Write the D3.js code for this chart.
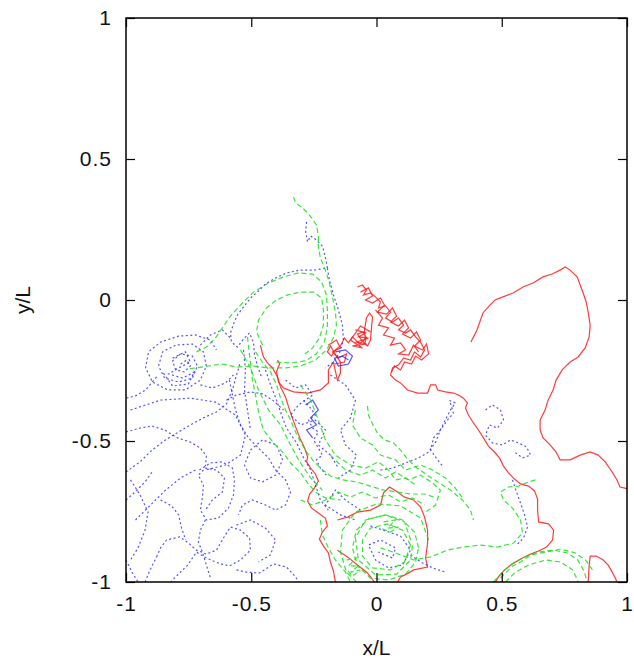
<!DOCTYPE html>
<html>
<head>
<meta charset="utf-8">
<script src="https://cdn.jsdelivr.net/npm/d3@7"></script>
<style>
  body { margin: 0; background: #fff; }
  text { font-family: "Liberation Sans", Arial, sans-serif; }
</style>
</head>
<body>
<div id="chart"></div>
<script>
/* tick values */
var xTicks = [-1, -0.5, 0, 0.5, 1];
var yTicks = [-1, -0.5, 0, 0.5, 1];

/* red trajectory pieces (x/L, y/L) */
var redLoop = [[0.377,-0.149],[0.401,-0.106],[0.425,-0.046],[0.453,-0.018],[0.473,0.0],[0.505,0.011],[0.545,0.025],[0.585,0.046],[0.625,0.060],[0.665,0.082],[0.701,0.092],[0.733,0.106],[0.753,0.117],[0.773,0.106],[0.801,0.082],[0.813,0.053],[0.825,0.025],[0.837,-0.007],[0.845,-0.043],[0.853,-0.089],[0.849,-0.131],[0.833,-0.170],[0.805,-0.202],[0.773,-0.220],[0.741,-0.248],[0.717,-0.284],[0.705,-0.319],[0.685,-0.355],[0.673,-0.390],[0.653,-0.426],[0.653,-0.461],[0.665,-0.489],[0.693,-0.514],[0.717,-0.539],[0.733,-0.567],[0.773,-0.567],[0.813,-0.550],[0.853,-0.539],[0.885,-0.550],[0.913,-0.574],[0.941,-0.610],[0.960,-0.638],[0.972,-0.663],[0.992,-0.667],[1.0,-0.67]];
var redCorner = [[0.845,-1.0],[0.849,-0.94],[0.853,-0.908],[0.877,-0.908],[0.905,-0.922],[0.925,-0.94],[0.941,-0.965],[0.953,-0.986],[0.96,-1.0]];
var redRidge = [[-0.076,0.046],[-0.056,0.053],[-0.040,0.035],[-0.052,0.018],[-0.024,0.025],[-0.004,0.011],[0.016,-0.007],[0.008,-0.028],[0.036,-0.021],[0.056,-0.043],[0.036,-0.064],[0.064,-0.078],[0.088,-0.064],[0.108,-0.089],[0.088,-0.106],[0.116,-0.117],[0.136,-0.106],[0.156,-0.131],[0.176,-0.149],[0.192,-0.177],[0.176,-0.202],[0.152,-0.184],[0.136,-0.213],[0.108,-0.206],[0.088,-0.230],[0.064,-0.241],[0.056,-0.266],[0.076,-0.284],[0.096,-0.294],[0.124,-0.319],[0.164,-0.330],[0.204,-0.330],[0.216,-0.301],[0.236,-0.301],[0.244,-0.319],[0.275,-0.326],[0.307,-0.330],[0.327,-0.337],[0.347,-0.348],[0.363,-0.365],[0.355,-0.383],[0.367,-0.408],[0.387,-0.436],[0.407,-0.461],[0.427,-0.489],[0.447,-0.518],[0.471,-0.539],[0.491,-0.560],[0.507,-0.589],[0.527,-0.613],[0.551,-0.635],[0.575,-0.652],[0.607,-0.660],[0.631,-0.677],[0.643,-0.706],[0.643,-0.745],[0.647,-0.787],[0.687,-0.794],[0.707,-0.816],[0.703,-0.851],[0.679,-0.876],[0.647,-0.890],[0.615,-0.901],[0.583,-0.915],[0.547,-0.933],[0.511,-0.957],[0.487,-0.982],[0.475,-1.0]];
var redTangle = [[-0.044,-0.152],[-0.048,-0.106],[-0.040,-0.064],[-0.028,-0.046],[-0.016,-0.060],[-0.020,-0.099],[-0.024,-0.142],[-0.036,-0.163],[-0.060,-0.142],[-0.076,-0.121],[-0.052,-0.113],[-0.040,-0.135],[-0.068,-0.156],[-0.096,-0.131],[-0.112,-0.152],[-0.128,-0.135],[-0.144,-0.163],[-0.164,-0.177],[-0.180,-0.199],[-0.196,-0.184],[-0.184,-0.163],[-0.160,-0.199],[-0.144,-0.220],[-0.144,-0.259],[-0.156,-0.284],[-0.172,-0.220],[-0.192,-0.248],[-0.192,-0.294],[-0.224,-0.319],[-0.275,-0.330],[-0.331,-0.326],[-0.371,-0.312],[-0.391,-0.291],[-0.399,-0.255],[-0.387,-0.227],[-0.395,-0.213]];
var redKnot = [[-0.004,-0.035],[0.024,-0.064],[0.008,-0.089],[0.048,-0.099],[0.028,-0.124],[0.072,-0.135],[0.056,-0.160],[0.096,-0.152],[0.116,-0.177],[0.088,-0.191],[0.128,-0.195],[0.148,-0.160],[0.168,-0.184]];
var redTangle2 = [[-0.064,0.028],[-0.032,0.043],[-0.016,0.014],[-0.044,0.0],[-0.016,-0.011],[0.016,0.007],[0.032,-0.018],[0.004,-0.043],[0.040,-0.050],[0.064,-0.028],[0.080,-0.057],[0.056,-0.078],[0.088,-0.092],[0.112,-0.071],[0.128,-0.099],[0.104,-0.121],[0.136,-0.135],[0.160,-0.113],[0.176,-0.142],[0.152,-0.163],[0.184,-0.177],[0.200,-0.156],[0.208,-0.191],[0.180,-0.213],[0.156,-0.199],[0.140,-0.227],[0.112,-0.220],[0.096,-0.248],[0.072,-0.234],[0.060,-0.255]];
var redBlob = [[-0.084,-0.106],[-0.044,-0.117],[-0.072,-0.131],[-0.032,-0.135],[-0.080,-0.149],[-0.040,-0.156],[-0.096,-0.163],[-0.056,-0.170],[-0.104,-0.142],[-0.064,-0.092],[-0.024,-0.113]];
var redCurl = [[-0.192,-0.160],[-0.160,-0.142],[-0.144,-0.170],[-0.176,-0.184],[-0.152,-0.206],[-0.120,-0.191],[-0.128,-0.220],[-0.168,-0.227]];
var redLeft = [[-0.463,-0.160],[-0.459,-0.177],[-0.451,-0.202],[-0.435,-0.223],[-0.415,-0.241],[-0.395,-0.273],[-0.383,-0.309],[-0.363,-0.344],[-0.351,-0.379],[-0.339,-0.411],[-0.323,-0.450],[-0.303,-0.496],[-0.287,-0.525],[-0.275,-0.557],[-0.279,-0.574],[-0.263,-0.596],[-0.244,-0.617],[-0.232,-0.642],[-0.248,-0.667],[-0.267,-0.688],[-0.275,-0.713],[-0.259,-0.738],[-0.232,-0.755],[-0.204,-0.773],[-0.196,-0.801],[-0.216,-0.823],[-0.228,-0.848],[-0.212,-0.872],[-0.192,-0.897],[-0.184,-0.929],[-0.172,-0.961],[-0.164,-1.0]];
var redArc = [[-0.156,-0.780],[-0.116,-0.770],[-0.076,-0.752],[-0.024,-0.745],[0.016,-0.727],[0.028,-0.684],[0.052,-0.663],[0.084,-0.681],[0.112,-0.699],[0.148,-0.709],[0.176,-0.734],[0.192,-0.770],[0.204,-0.816],[0.204,-0.862],[0.196,-0.915],[0.204,-0.947],[0.148,-0.957],[0.120,-0.972],[0.096,-0.982],[0.084,-1.0]];
var redDiag = [[-0.156,-0.887],[-0.116,-0.911],[-0.076,-0.940],[-0.036,-0.968],[-0.008,-1.0]];

/* green trajectory pieces */
var greenHook = [[-0.331,0.365],[-0.323,0.344],[-0.299,0.330],[-0.279,0.312],[-0.259,0.291],[-0.240,0.266],[-0.232,0.230],[-0.232,0.188],[-0.224,0.149],[-0.204,0.106],[-0.188,0.060],[-0.176,0.011],[-0.164,-0.043],[-0.160,-0.089],[-0.172,-0.135],[-0.200,-0.177],[-0.244,-0.213],[-0.303,-0.234],[-0.363,-0.241],[-0.431,-0.241],[-0.495,-0.234],[-0.559,-0.238],[-0.615,-0.227],[-0.671,-0.234],[-0.723,-0.241],[-0.758,-0.245]];
var greenOuter = [[-0.719,-0.184],[-0.679,-0.167],[-0.643,-0.135],[-0.615,-0.099],[-0.583,-0.057],[-0.543,-0.018],[-0.491,0.028],[-0.431,0.060],[-0.371,0.082],[-0.311,0.096],[-0.255,0.092],[-0.219,0.064],[-0.200,0.018],[-0.196,-0.035],[-0.196,-0.096],[-0.208,-0.149],[-0.240,-0.191],[-0.283,-0.216],[-0.343,-0.223],[-0.403,-0.220]];
var greenInner = [[-0.455,-0.160],[-0.479,-0.113],[-0.471,-0.071],[-0.439,-0.028],[-0.399,0.0],[-0.355,0.018],[-0.303,0.028],[-0.251,0.028],[-0.219,0.007],[-0.212,-0.035],[-0.212,-0.089],[-0.228,-0.135],[-0.255,-0.170],[-0.291,-0.195]];
var greenSlope = [[-0.483,-0.184],[-0.455,-0.220],[-0.423,-0.255],[-0.399,-0.301],[-0.383,-0.348],[-0.363,-0.390],[-0.343,-0.426],[-0.323,-0.468],[-0.303,-0.504],[-0.279,-0.539],[-0.255,-0.567],[-0.224,-0.596],[-0.184,-0.624],[-0.136,-0.638],[-0.080,-0.645],[-0.024,-0.660],[0.028,-0.674],[0.080,-0.681],[0.136,-0.688],[0.192,-0.688],[0.240,-0.702]];
var greenSlope2 = [[-0.515,-0.131],[-0.507,-0.195],[-0.495,-0.284],[-0.483,-0.337],[-0.475,-0.379],[-0.463,-0.426],[-0.451,-0.461],[-0.411,-0.507],[-0.371,-0.543],[-0.343,-0.578],[-0.303,-0.613],[-0.275,-0.649],[-0.244,-0.681],[-0.204,-0.702],[-0.144,-0.709]];
var greenSlope3 = [[-0.543,-0.177],[-0.503,-0.241],[-0.471,-0.319],[-0.431,-0.390],[-0.383,-0.443],[-0.343,-0.514],[-0.311,-0.567],[-0.263,-0.631],[-0.216,-0.674]];
var greenMid = [[-0.036,-0.376],[-0.032,-0.408],[-0.016,-0.440],[0.004,-0.472],[0.032,-0.496],[0.068,-0.507],[0.096,-0.532],[0.120,-0.560],[0.156,-0.592],[0.196,-0.617],[0.244,-0.645],[0.295,-0.674],[0.343,-0.709],[0.375,-0.745],[0.387,-0.780]];
var greenMid2 = [[-0.084,-0.390],[-0.096,-0.443],[-0.064,-0.489],[-0.016,-0.514],[0.016,-0.550],[0.076,-0.567],[0.116,-0.603],[0.176,-0.585],[0.224,-0.603],[0.275,-0.631],[0.315,-0.667],[0.343,-0.702]];
var greenCross = [[0.016,-0.879],[0.076,-0.897],[0.148,-0.922],[0.216,-0.911],[0.283,-0.887],[0.347,-0.876],[0.415,-0.869],[0.483,-0.876],[0.547,-0.862],[0.583,-0.826],[0.575,-0.780],[0.543,-0.738],[0.507,-0.709],[0.495,-0.681],[0.527,-0.663],[0.567,-0.660],[0.607,-0.645],[0.635,-0.638]];
var greenArc = [[0.467,-1.0],[0.495,-0.972],[0.535,-0.940],[0.583,-0.915],[0.643,-0.894],[0.707,-0.887],[0.763,-0.897],[0.803,-0.922],[0.826,-0.957],[0.842,-1.0]];
var greenArc2 = [[0.515,-1.0],[0.555,-0.965],[0.607,-0.940],[0.675,-0.922],[0.735,-0.929],[0.783,-0.957],[0.806,-1.0]];
var greenArc3 = [[0.495,-0.986],[0.543,-0.943],[0.575,-0.929],[0.615,-0.904],[0.675,-0.894],[0.735,-0.883],[0.794,-0.897],[0.834,-0.922],[0.862,-0.957]];
var greenRing1 = [[0.168,-0.879],[0.152,-0.823],[0.104,-0.780],[0.036,-0.762],[-0.032,-0.777],[-0.080,-0.816],[-0.096,-0.879],[-0.076,-0.943],[-0.024,-0.986],[0.048,-0.993],[0.116,-0.972],[0.156,-0.929],[0.168,-0.879]];
var greenRing2 = [[0.136,-0.869],[0.104,-0.816],[0.044,-0.794],[-0.024,-0.809],[-0.056,-0.851],[-0.056,-0.908],[-0.016,-0.950],[0.056,-0.957],[0.112,-0.929],[0.136,-0.869]];
var greenRing3 = [[0.208,-0.851],[0.176,-0.773],[0.096,-0.730],[0,-0.723],[-0.084,-0.752],[-0.136,-0.816],[-0.144,-0.894],[-0.120,-0.965],[-0.080,-1.0]];
var greenRing4 = [[0.136,-0.851],[0.112,-0.787],[0.036,-0.762],[-0.044,-0.780],[-0.084,-0.844],[-0.072,-0.922],[-0.004,-0.975],[0.080,-0.972],[0.136,-0.922],[0.144,-0.869]];
var greenBlob = [[-0.120,-0.922],[-0.080,-0.915],[-0.112,-0.943],[-0.072,-0.943],[-0.104,-0.965],[-0.064,-0.957],[-0.096,-0.979],[-0.124,-0.950]];
var greenBlob2 = [[0.028,-0.787],[0.076,-0.780],[0.044,-0.809],[0.088,-0.805],[0.056,-0.823],[0.016,-0.809]];
var greenWander = [[-0.303,-0.301],[-0.263,-0.355],[-0.232,-0.426],[-0.204,-0.496],[-0.164,-0.550],[-0.104,-0.585],[-0.044,-0.596],[0.008,-0.574],[0.048,-0.603],[0.076,-0.638],[0.116,-0.631],[0.156,-0.656]];
var greenWander2 = [[-0.184,-0.550],[-0.124,-0.603],[-0.064,-0.621],[-0.016,-0.603],[0.036,-0.631],[0.076,-0.610],[0.128,-0.638],[0.176,-0.621],[0.224,-0.649],[0.255,-0.674],[0.236,-0.727],[0.196,-0.752]];
var greenWander3 = [[-0.303,-0.709],[-0.255,-0.727],[-0.204,-0.709],[-0.152,-0.681],[-0.104,-0.699],[-0.056,-0.681],[-0.004,-0.702],[0.048,-0.691],[0.096,-0.716],[0.144,-0.702],[0.192,-0.727]];
var greenDown = [[-0.224,-0.780],[-0.216,-0.833],[-0.192,-0.879],[-0.164,-0.922],[-0.124,-0.965],[-0.104,-1.0]];

/* blue trajectory pieces (dotted) */
var blueTop = [[-0.279,0.277],[-0.283,0.241],[-0.275,0.206],[-0.263,0.227],[-0.240,0.213],[-0.216,0.191],[-0.204,0.152],[-0.196,0.113],[-0.251,0.106],[-0.307,0.106],[-0.359,0.096],[-0.403,0.078],[-0.443,0.057],[-0.471,0.032],[-0.503,0.007],[-0.531,-0.025],[-0.555,-0.053],[-0.571,-0.085],[-0.583,-0.117],[-0.579,-0.149],[-0.555,-0.167],[-0.531,-0.138],[-0.507,-0.117],[-0.491,-0.152],[-0.487,-0.195],[-0.475,-0.234],[-0.459,-0.273]];
var blueSide = [[-0.196,0.113],[-0.188,0.071],[-0.172,0.018],[-0.152,-0.035],[-0.136,-0.089],[-0.132,-0.142],[-0.148,-0.188],[-0.172,-0.220],[-0.204,-0.241]];
var blueRidge = [[-0.291,-0.355],[-0.263,-0.383],[-0.244,-0.408],[-0.271,-0.426],[-0.255,-0.454],[-0.232,-0.468],[-0.251,-0.496],[-0.232,-0.525],[-0.216,-0.550],[-0.240,-0.567],[-0.224,-0.596],[-0.200,-0.621]];
var blueRidge2 = [[-0.363,-0.284],[-0.323,-0.312],[-0.283,-0.301],[-0.255,-0.337],[-0.311,-0.372],[-0.343,-0.408],[-0.303,-0.443],[-0.244,-0.426],[-0.204,-0.461],[-0.232,-0.514],[-0.184,-0.550],[-0.152,-0.596]];
var blueRidge3 = [[-0.184,-0.266],[-0.124,-0.301],[-0.084,-0.355],[-0.104,-0.418],[-0.144,-0.461],[-0.124,-0.514],[-0.080,-0.550],[-0.104,-0.603],[-0.152,-0.631]];
var blueSwirl = [[-0.782,-0.227],[-0.758,-0.213],[-0.743,-0.234],[-0.767,-0.255],[-0.802,-0.248],[-0.814,-0.216],[-0.782,-0.191],[-0.735,-0.199],[-0.715,-0.234],[-0.735,-0.277],[-0.790,-0.291],[-0.846,-0.277],[-0.870,-0.234],[-0.854,-0.184],[-0.802,-0.160],[-0.735,-0.156],[-0.691,-0.184],[-0.679,-0.234],[-0.703,-0.284],[-0.763,-0.319],[-0.834,-0.319],[-0.894,-0.291],[-0.922,-0.241],[-0.910,-0.184],[-0.862,-0.149],[-0.790,-0.128],[-0.723,-0.124],[-0.663,-0.142],[-0.639,-0.177]];
var blueSwirl2 = [[-0.814,-0.206],[-0.763,-0.184],[-0.743,-0.220],[-0.790,-0.241],[-0.830,-0.262],[-0.774,-0.277],[-0.727,-0.255],[-0.751,-0.298],[-0.814,-0.305],[-0.854,-0.255]];
var blueCap = [[-0.703,-0.160],[-0.663,-0.124],[-0.615,-0.106],[-0.583,-0.135]];
var blueCol = [[-0.531,-0.177],[-0.523,-0.248],[-0.527,-0.319],[-0.515,-0.390],[-0.503,-0.461]];
var blueEgg = [[-0.707,-0.603],[-0.663,-0.578],[-0.615,-0.574],[-0.575,-0.596],[-0.567,-0.638],[-0.571,-0.691],[-0.591,-0.738],[-0.631,-0.773],[-0.679,-0.780],[-0.703,-0.745],[-0.695,-0.699],[-0.691,-0.656],[-0.711,-0.621],[-0.683,-0.596],[-0.639,-0.603],[-0.607,-0.631],[-0.615,-0.681],[-0.655,-0.709],[-0.683,-0.745]];
var blueLow = [[-0.878,-0.911],[-0.862,-0.879],[-0.838,-0.851],[-0.786,-0.840],[-0.750,-0.862],[-0.719,-0.887],[-0.679,-0.901],[-0.639,-0.887],[-0.611,-0.844],[-0.583,-0.805],[-0.543,-0.816],[-0.507,-0.844],[-0.503,-0.887],[-0.543,-0.922],[-0.587,-0.943],[-0.631,-0.933],[-0.679,-0.915],[-0.719,-0.894],[-0.754,-0.940],[-0.794,-0.975],[-0.822,-1.0]];
var blueDrop = [[-0.683,-0.780],[-0.703,-0.816],[-0.711,-0.858],[-0.695,-0.894],[-0.679,-0.940],[-0.663,-0.986]];
var blueDrop2 = [[-0.862,-0.709],[-0.818,-0.730],[-0.790,-0.762],[-0.778,-0.809],[-0.762,-0.851]];
var blueFloor = [[-0.559,-0.957],[-0.519,-0.965],[-0.467,-0.968],[-0.411,-0.936],[-0.359,-0.947],[-0.323,-0.982],[-0.311,-1.0]];
var blueHump = [[-0.559,-0.798],[-0.503,-0.780],[-0.443,-0.809],[-0.403,-0.851],[-0.423,-0.904],[-0.471,-0.929]];
var blueArch = [[-0.982,-0.390],[-0.862,-0.355],[-0.743,-0.348],[-0.643,-0.362],[-0.563,-0.408],[-0.523,-0.479],[-0.543,-0.550],[-0.603,-0.585],[-0.683,-0.603]];
var blueRise = [[-0.962,-0.780],[-0.902,-0.727],[-0.842,-0.674],[-0.782,-0.631],[-0.723,-0.603]];
var blueCorner = [[-0.982,-0.638],[-0.944,-0.691],[-0.912,-0.752],[-0.924,-0.816],[-0.952,-0.879],[-0.982,-0.922]];
var blueOval = [[-0.503,-0.532],[-0.455,-0.496],[-0.399,-0.514],[-0.375,-0.567],[-0.403,-0.621],[-0.455,-0.645],[-0.503,-0.631],[-0.527,-0.585],[-0.503,-0.532]];
var blueEast1 = [[0.295,-0.365],[0.307,-0.401],[0.283,-0.426],[0.255,-0.461],[0.228,-0.489],[0.216,-0.532],[0.244,-0.567],[0.267,-0.592]];
var blueEast2 = [[0.435,-0.390],[0.463,-0.372],[0.495,-0.390],[0.507,-0.426],[0.483,-0.454],[0.451,-0.443],[0.435,-0.479],[0.463,-0.507],[0.503,-0.514],[0.535,-0.496],[0.567,-0.507],[0.599,-0.521],[0.615,-0.550],[0.583,-0.560],[0.551,-0.539]];
var blueEast3 = [[0.016,-0.603],[0.064,-0.596],[0.116,-0.578],[0.168,-0.560],[0.208,-0.539],[0.236,-0.504],[0.255,-0.461],[0.279,-0.418],[0.295,-0.390],[0.315,-0.365],[0.287,-0.355]];
var blueEast4 = [[0.543,-0.638],[0.559,-0.681],[0.575,-0.720],[0.591,-0.762],[0.603,-0.805],[0.587,-0.844],[0.559,-0.869]];
var blueRing = [[-0.024,-0.801],[0.036,-0.819],[0.096,-0.837],[0.136,-0.887],[0.104,-0.940],[0.048,-0.950],[-0.004,-0.922],[-0.032,-0.869],[0.016,-0.851],[0.076,-0.879],[0.064,-0.915],[0.008,-0.894]];
var blueRing2 = [[-0.064,-0.745],[-0.124,-0.709],[-0.164,-0.674],[-0.204,-0.727],[-0.144,-0.762],[-0.084,-0.780]];
var blueBottom = [[0.136,-0.904],[0.176,-0.929],[0.224,-0.950],[0.275,-0.965]];
var blueSlope = [[-0.443,-0.248],[-0.423,-0.301],[-0.399,-0.355],[-0.379,-0.408],[-0.359,-0.454],[-0.319,-0.507],[-0.291,-0.560],[-0.263,-0.603],[-0.244,-0.656],[-0.224,-0.709],[-0.192,-0.745]];
var blueBar = [[-0.599,-0.355],[-0.559,-0.337],[-0.503,-0.326],[-0.455,-0.333],[-0.415,-0.355],[-0.371,-0.390]];
var blueBend = [[-0.587,-0.284],[-0.575,-0.337],[-0.563,-0.390],[-0.543,-0.443],[-0.511,-0.489],[-0.471,-0.525],[-0.431,-0.560],[-0.403,-0.603],[-0.363,-0.638],[-0.343,-0.681],[-0.363,-0.727],[-0.403,-0.745],[-0.443,-0.727],[-0.495,-0.709],[-0.535,-0.727],[-0.551,-0.762]];
var blueWest1 = [[-1.0,-0.610],[-0.944,-0.574],[-0.896,-0.532],[-0.842,-0.496],[-0.790,-0.468],[-0.743,-0.443],[-0.691,-0.418],[-0.639,-0.397],[-0.599,-0.369],[-0.575,-0.319],[-0.559,-0.266],[-0.543,-0.220]];
var blueWest2 = [[-1.0,-0.468],[-0.944,-0.454],[-0.896,-0.447],[-0.846,-0.461],[-0.794,-0.489],[-0.743,-0.504],[-0.703,-0.525],[-0.679,-0.553],[-0.683,-0.589]];
var blueWest3 = [[-0.878,-0.273],[-0.922,-0.319],[-0.962,-0.340],[-1.0,-0.348]];
var blueWest4 = [[-0.703,-0.301],[-0.655,-0.312],[-0.603,-0.294],[-0.571,-0.266]];
var blueWest5 = [[-1.0,-0.709],[-0.964,-0.681],[-0.924,-0.645],[-0.896,-0.610]];
var blueWest6 = [[-1.0,-0.922],[-0.976,-0.965],[-0.952,-1.0]];
var blueWest7 = [[-0.924,-1.0],[-0.904,-0.957],[-0.878,-0.911]];

/* blue pieces dense enough to look solid */
var blueKnot = [[-0.164,-0.184],[-0.124,-0.177],[-0.096,-0.199],[-0.112,-0.227],[-0.152,-0.234],[-0.168,-0.206],[-0.136,-0.199],[-0.112,-0.213]];
var blueClump = [[-0.283,-0.372],[-0.255,-0.355],[-0.232,-0.390],[-0.263,-0.418],[-0.240,-0.443],[-0.279,-0.461],[-0.255,-0.489]];

var redPaths = [redLoop, redCorner, redRidge, redTangle, redKnot, redTangle2, redBlob, redCurl, redLeft, redArc, redDiag];
var bluePaths = [blueTop, blueSide, blueRidge, blueRidge2, blueRidge3, blueSwirl, blueSwirl2, blueCap, blueCol, blueEgg, blueLow,
    blueDrop, blueDrop2, blueFloor, blueHump, blueArch, blueRise, blueCorner, blueOval, blueEast1, blueEast2, blueEast3, blueEast4,
    blueRing, blueRing2, blueBottom, blueSlope, blueBar, blueBend,
    blueWest1, blueWest2, blueWest3, blueWest4, blueWest5, blueWest6, blueWest7];
var blueSolid = [blueKnot, blueClump];
var greenPaths = [greenHook, greenOuter, greenInner, greenSlope, greenSlope2, greenSlope3, greenMid, greenMid2, greenCross,
    greenArc, greenArc2, greenArc3, greenRing1, greenRing2, greenRing3, greenRing4, greenBlob, greenBlob2,
    greenWander, greenWander2, greenWander3, greenDown];

var W = 634, H = 662;
var margin = {top: 18, right: 7, bottom: 80, left: 126};

var svg = d3.select("#chart").append("svg")
    .attr("width", W)
    .attr("height", H);

var x = d3.scaleLinear().domain([-1, 1]).range([margin.left, W - margin.right]);
var y = d3.scaleLinear().domain([-1, 1]).range([H - margin.bottom, margin.top]);

// clip so the wrapped pieces stop at the frame
svg.append("clipPath").attr("id", "plotclip")
  .append("rect")
    .attr("x", x(-1)).attr("y", y(1))
    .attr("width", x(1) - x(-1)).attr("height", y(-1) - y(1));

var line = d3.line()
    .x(function(d) { return x(d[0]); })
    .y(function(d) { return y(d[1]); });

var plot = svg.append("g").attr("clip-path", "url(#plotclip)");

function drawSet(paths, color, dash, op) {
    plot.append("g").selectAll("path")
        .data(paths)
        .enter().append("path")
        .attr("d", line)
        .attr("fill", "none")
        .attr("stroke", color)
        .attr("stroke-width", 1.2)
        .attr("stroke-opacity", op)
        .attr("stroke-dasharray", dash);
}

drawSet(redPaths, "#ff1a1a", null, 0.85);
drawSet(bluePaths, "#2a2aff", "2,2.5", 0.8);
drawSet(blueSolid, "#2a2aff", null, 0.8);
drawSet(greenPaths, "#18e018", "5,3", 0.85);

// axes, ticks pointing in, mirrored like gnuplot
var tl = 9;
var fmt = function(d) { return String(d); };
svg.append("g").attr("transform", "translate(0," + y(-1) + ")")
    .call(d3.axisBottom(x).tickValues(xTicks).tickSizeInner(-tl).tickSizeOuter(0).tickPadding(14).tickFormat(fmt));
svg.append("g").attr("transform", "translate(0," + y(1) + ")")
    .call(d3.axisTop(x).tickValues(xTicks).tickSizeInner(-tl).tickSizeOuter(0).tickFormat(""));
svg.append("g").attr("transform", "translate(" + x(-1) + ",0)")
    .call(d3.axisLeft(y).tickValues(yTicks).tickSizeInner(-tl).tickSizeOuter(0).tickPadding(14).tickFormat(fmt));
svg.append("g").attr("transform", "translate(" + x(1) + ",0)")
    .call(d3.axisRight(y).tickValues(yTicks).tickSizeInner(-tl).tickSizeOuter(0).tickFormat(""));

svg.selectAll(".domain").remove();
svg.selectAll(".tick line").attr("stroke", "#000").attr("stroke-width", 1.2);
svg.selectAll(".tick text")
    .attr("font-size", 21)
    .attr("fill", "#111")
    .style("letter-spacing", "1px");

svg.append("rect")
    .attr("x", x(-1)).attr("y", y(1))
    .attr("width", x(1) - x(-1)).attr("height", y(-1) - y(1))
    .attr("fill", "none")
    .attr("stroke", "#000")
    .attr("stroke-width", 1.5);

svg.append("text")
    .attr("x", (x(-1) + x(1)) / 2)
    .attr("y", 655)
    .attr("text-anchor", "middle")
    .attr("font-size", 21)
    .attr("fill", "#111")
    .text("x/L");

svg.append("text")
    .attr("transform", "translate(30," + ((y(-1) + y(1)) / 2) + ") rotate(-90)")
    .attr("text-anchor", "middle")
    .attr("font-size", 21)
    .attr("fill", "#111")
    .text("y/L");
</script>
</body>
</html>
